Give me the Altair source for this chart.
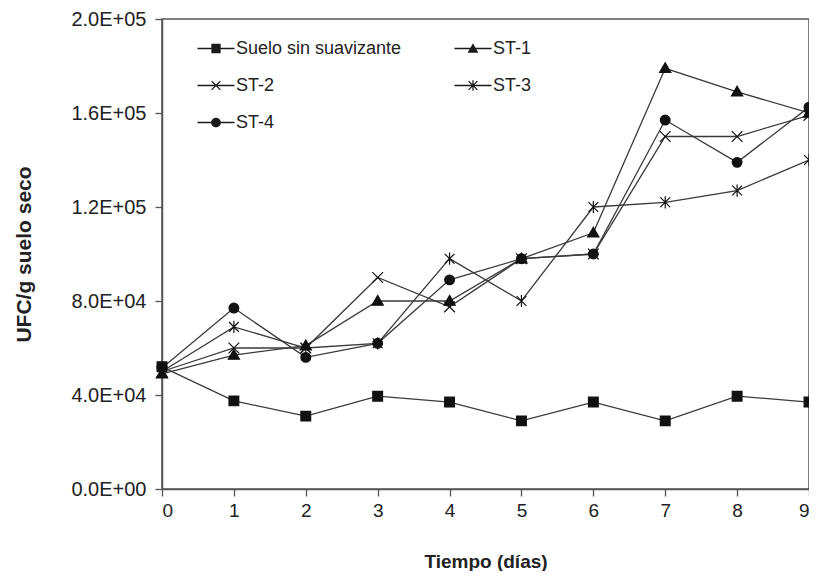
import altair as alt
import pandas as pd

days = [0, 1, 2, 3, 4, 5, 6, 7, 8, 9]
series_names = ["Suelo sin suavizante", "ST-1", "ST-2", "ST-3", "ST-4"]
suelo = [52000, 37500, 31000, 39500, 37000, 29000, 37000, 29000, 39500, 37000]
st1 = [49000, 57000, 61000, 80000, 80000, 98000, 109000, 179000, 169000, 160000]
st2 = [50000, 60000, 60000, 90000, 77500, 98000, 100000, 150000, 150000, 159000]
st3 = [50000, 69000, 60000, 62000, 98000, 80000, 120000, 122000, 127000, 140000]
st4 = [51500, 77000, 56000, 62000, 89000, 98000, 100000, 157000, 139000, 162500]
y_ticks = [0, 40000, 80000, 120000, 160000, 200000]

values = [suelo, st1, st2, st3, st4]
rows = []
for name, vals in zip(series_names, values):
    for d, v in zip(days, vals):
        rows.append({"dia": d, "ufc": v, "serie": name})
df = pd.DataFrame(rows)

FONT = "Liberation Sans"

# marker shapes for the data points
marker_paths = [
    "square",
    "M0,-1.15L1.15,0.85H-1.15Z",
    "M-1.1,-1.1L1.1,1.1M-1.1,1.1L1.1,-1.1",
    "M-1,-1L1,1M-1,1L1,-1M0,-1.25V1.25",
    "circle",
]
# legend symbols: a thin filled bar (the line) + filled marker outlines
bar = "M-3.8,-0.13H3.8V0.13H-3.8Z"
x1 = "M-0.808,-0.992L0.992,0.808L0.808,0.992L-0.992,-0.808Z"
x2 = "M-0.992,0.808L0.808,-0.992L0.992,-0.808L-0.808,0.992Z"
vbar = "M-0.13,-1.1H0.13V1.1H-0.13Z"
legend_paths = [
    bar + "M-0.95,-0.95H0.95V0.95H-0.95Z",
    bar + "M0,-1.1L1.1,0.85H-1.1Z",
    bar + x1 + x2,
    bar + x1 + x2 + vbar,
    bar + "M-1,0A1,1,0,1,1,1,0A1,1,0,1,1,-1,0Z",
]

x_enc = alt.X(
    "dia:Q",
    scale=alt.Scale(domain=[0, 9], nice=False, zero=False),
    axis=alt.Axis(values=days, format="d", title="Tiempo (días)", titlePadding=32,
                  labelFontSize=19, titleFontSize=19),
)
y_enc = alt.Y(
    "ufc:Q",
    scale=alt.Scale(domain=[0, 200000], nice=False),
    axis=alt.Axis(
        values=y_ticks,
        labelExpr="replace(upper(format(datum.value, '.1e')), 'E+', 'E+0')",
        title="UFC/g suelo seco",
        titlePadding=36,
        labelFontSize=20,
        titleFontSize=21,
    ),
)

lines = alt.Chart(df).mark_line(color="#3a3a3a", strokeWidth=1.3).encode(
    x=x_enc, y=y_enc, detail="serie:N"
)

points = alt.Chart(df).mark_point(
    fill="#111111", stroke="#111111", strokeWidth=1.2, opacity=1, size=95
).encode(
    x=x_enc,
    y=y_enc,
    shape=alt.Shape(
        "serie:N",
        scale=alt.Scale(domain=series_names, range=marker_paths),
        legend=None,
    ),
)

legend_layer = alt.Chart(df).mark_point(
    filled=True, color="#1a1a1a", fill="#1a1a1a", opacity=0, size=95
).encode(
    x=x_enc,
    y=y_enc,
    shape=alt.Shape(
        "serie:N",
        scale=alt.Scale(domain=series_names, range=legend_paths),
        legend=alt.Legend(
            title=None,
            orient="none",
            legendX=45,
            legendY=20.5,
            direction="horizontal",
            columns=2,
            columnPadding=52,
            rowPadding=19,
            symbolSize=95,
            symbolOpacity=1,
            symbolFillColor="#1a1a1a",
            symbolStrokeWidth=0,
            labelFont=FONT,
            labelFontSize=18,
            labelColor="#222222",
            labelOffset=11,
            labelLimit=400,
        ),
    ),
)

chart = (
    alt.layer(lines, points, legend_layer)
    .resolve_scale(shape="independent")
    .properties(
        width=647,
        height=470,
        autosize=alt.AutoSizeParams(type="none"),
        padding={"left": 154, "top": 11, "right": 0, "bottom": 82},
        background="white",
    )
    .configure_view(stroke="#555555", strokeWidth=1.5)
    .configure_axis(
        domainColor="#555555",
        domainWidth=1.5,
        tickColor="#555555",
        tickWidth=1.3,
        tickSize=7,
        grid=False,
        labelFont=FONT,
        labelColor="#222222",
        titleFont=FONT,
        titleFontWeight="bold",
        titleColor="#222222",
    )
    .configure_axisY(labelPadding=9)
    .configure_axisX(labelPadding=5)
)

chart.save("out.html", embed_options={"renderer": "svg", "actions": False})
